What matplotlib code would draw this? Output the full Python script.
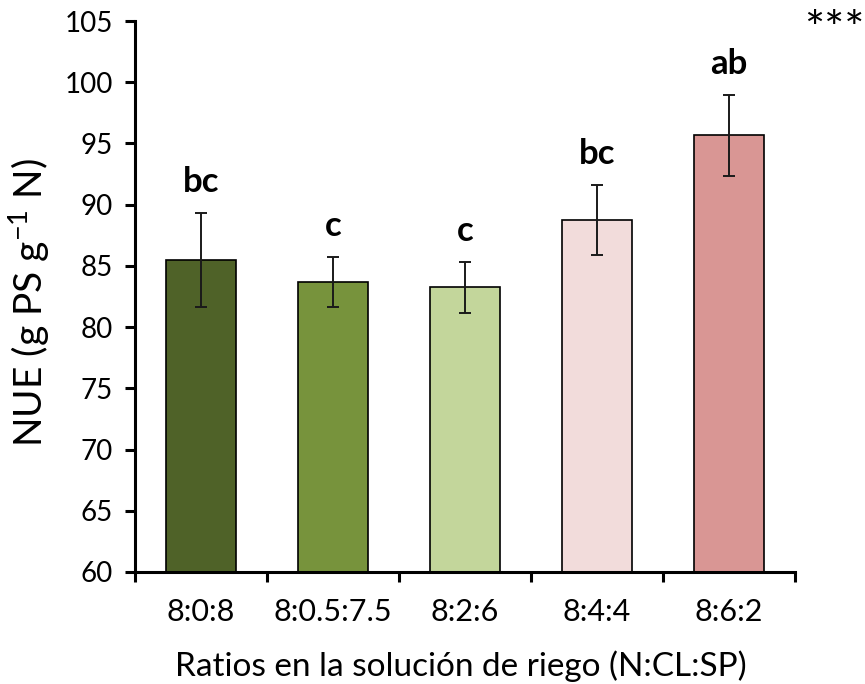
import matplotlib
matplotlib.use("Agg")
import matplotlib.pyplot as plt
import numpy as np

plt.rcParams['font.family'] = ['Lato', 'DejaVu Sans']
plt.rcParams['mathtext.default'] = 'regular'

# data
ratios = ['8:0:8', '8:0.5:7.5', '8:2:6', '8:4:4', '8:6:2']
nue = [85.5, 83.7, 83.25, 88.75, 95.65]
nue_err = [3.85, 2.05, 2.08, 2.87, 3.31]
letters = ['bc', 'c', 'c', 'bc', 'ab']
colors = ['#4f6228', '#77933c', '#c3d69b', '#f2dcdb', '#d99694']

fig = plt.figure(figsize=(8.65, 6.84), dpi=100)
ax = fig.add_axes([135/865, 1-572/684, 660/865, 551/684])

x = np.arange(len(ratios))
ax.bar(x, nue, width=0.53, color=colors, edgecolor='black', linewidth=1.2,
       yerr=nue_err, error_kw=dict(ecolor='#1a1a1a', elinewidth=1.4,
                                   capsize=4.5, capthick=1.4), zorder=2)

# significance letters
for xi, m, e, lab in zip(x, nue, nue_err, letters):
    ax.text(xi, m + e + 1.7, lab, ha='center', va='baseline',
            fontsize=25, fontweight='bold')

ax.set_xlim(-0.5, 4.5)
ax.set_ylim(60, 105)
ax.set_yticks(np.arange(60, 106, 5))
ax.set_xticks(x)
ax.set_xticklabels(ratios)
ax.set_xticks(np.arange(-0.5, 5, 1), minor=True)

for s in ['top', 'right']:
    ax.spines[s].set_visible(False)
for s in ['left', 'bottom']:
    ax.spines[s].set_linewidth(2.2)

ax.tick_params(axis='y', direction='out', length=7, width=2.2, labelsize=20, pad=9)
ax.tick_params(axis='x', which='major', length=0, labelsize=22, pad=19)
ax.tick_params(axis='x', which='minor', direction='out', length=7, width=2.2)

fig.text(29/865, 1-303/684, 'NUE (g PS g$^{-1}$ N)', rotation=90,
         ha='center', va='center', fontsize=28)
fig.text(461/865, 1-666/684, 'Ratios en la solución de riego (N:CL:SP)',
         ha='center', va='center', fontsize=24)
fig.text(834/865, 1-31/684, '***', ha='center', va='center', fontsize=34)

fig.savefig('out.png', dpi=100)
